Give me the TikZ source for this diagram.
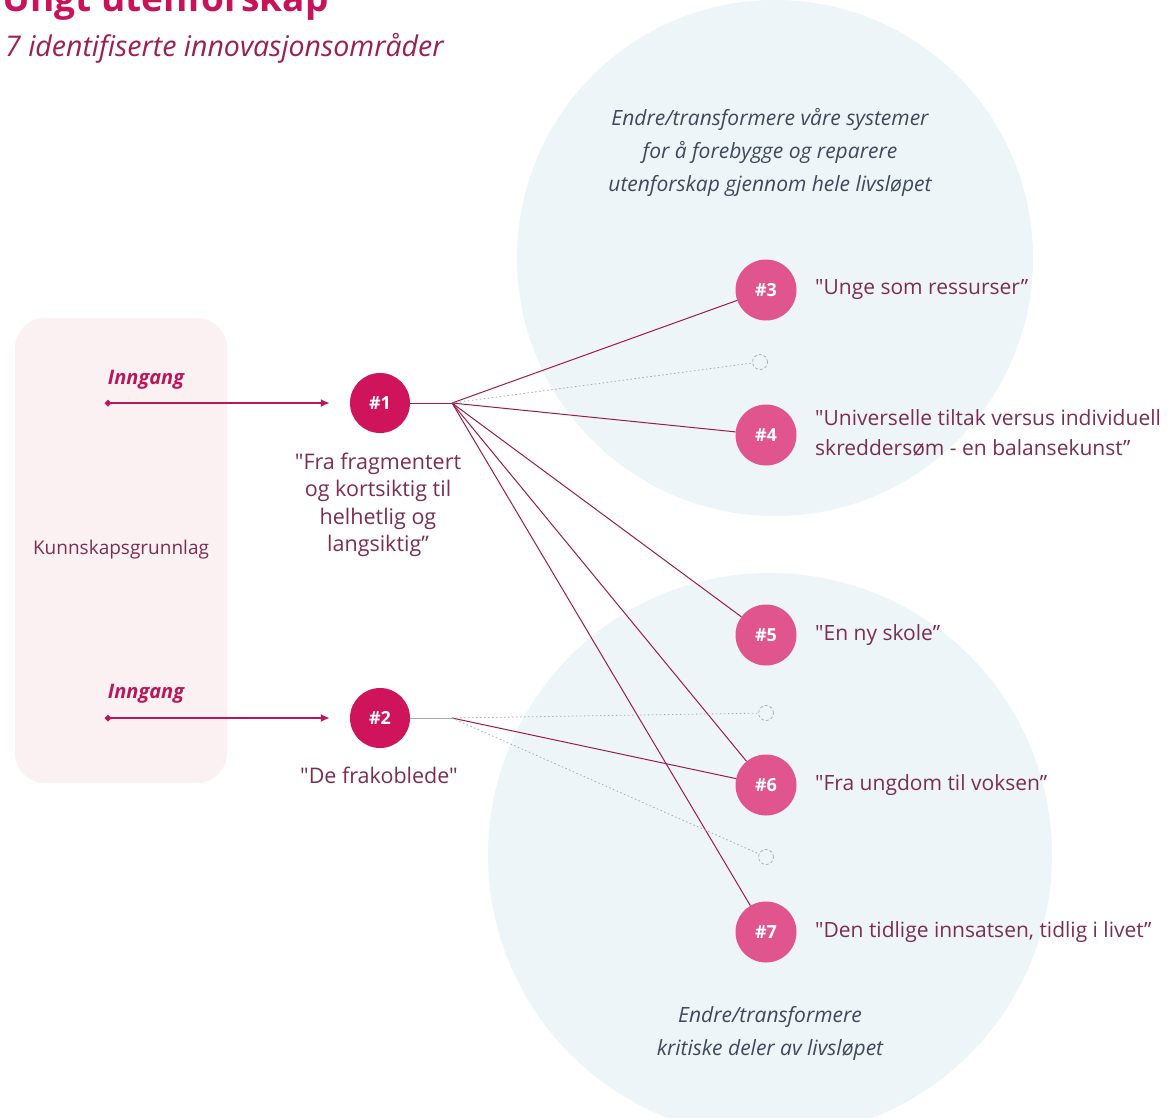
\documentclass[tikz,border=0pt]{standalone}
\usepackage{fontspec}
\setmainfont{Open Sans}[Ligatures=TeXOff]
\usetikzlibrary{arrows.meta}
\definecolor{crim}{HTML}{D0145C}
\definecolor{pinkc}{HTML}{E0558E}
\definecolor{titlec}{HTML}{C8125A}
\definecolor{subc}{HTML}{9A1F55}
\definecolor{arrowc}{HTML}{B8185A}
\definecolor{linec}{HTML}{9A1C4B}
\definecolor{labelc}{HTML}{7A2E52}
\definecolor{navyc}{HTML}{3E4A5A}
\definecolor{bluebg}{HTML}{EEF5F8}
\definecolor{pinkbg}{HTML}{FCF1F2}
\definecolor{ghostc}{HTML}{A8A8B0}
\tikzset{
  mainnode/.style={circle, fill=crim, minimum size=60pt, inner sep=0pt, text=white, font=\bfseries\fontsize{18}{20}\selectfont},
  areanode/.style={circle, fill=pinkc, minimum size=61pt, inner sep=0pt, text=white, font=\bfseries\fontsize{18}{20}\selectfont},
  ghost/.style={circle, draw=ghostc, densely dashed, line width=0.7pt, minimum size=15pt, inner sep=0pt},
  link/.style={draw=linec, line width=1pt},
  faintlink/.style={draw=ghostc, line width=0.8pt, dash pattern=on 1.5pt off 2.5pt},
  entry/.style={draw=arrowc, line width=2.4pt, {Circle[length=6pt]}-{Latex[length=9pt,width=8pt]}, shorten >=20pt},
  arealabel/.style={anchor=west, text=labelc, font=\fontsize{21}{30}\selectfont, align=left, inner sep=0pt},
  inlabel/.style={text=arrowc, font=\bfseries\itshape\fontsize{20}{22}\selectfont, inner sep=0pt},
  circtext/.style={text=navyc, font=\itshape\fontsize{21}{33}\selectfont, align=center, inner sep=0pt}
}
\begin{document}
\begin{tikzpicture}[x=1pt,y=-1pt]
\useasboundingbox (0,0) rectangle (1172,1117);
\clip (0,0) rectangle (1172,1117);
\fill[white] (0,0) rectangle (1172,1117);
% backgrounds
\fill[bluebg] (775,258) circle (258);
\fill[bluebg] (770,855) circle (282);
\fill[pinkbg, rounded corners=30pt] (15,318) rectangle (227,783);
% title (cut at the top edge, as in the source)
\node[anchor=base west, inner sep=0pt, text=titlec, font=\bfseries\fontsize{37}{40}\selectfont] (title) at (2,11) {Ungt utenforskap};
\node[anchor=base west, inner sep=0pt, text=subc, font=\itshape\fontsize{28.5}{32}\selectfont] (sub) at (5,56) {7 identifiserte innovasjonsområder};
% circle captions
\node[circtext] (toptext) at (770,152) {Endre/transformere våre systemer\\for å forebygge og reparere\\utenforskap gjennom hele livsløpet};
\node[circtext] (bottext) at (770,1033) {Endre/transformere\\kritiske deler av livsløpet};
% knowledge base
\node[text=labelc, font=\fontsize{19}{21}\selectfont, inner sep=0pt] (kb) at (121,550) {Kunnskapsgrunnlag};
% main nodes
\node[mainnode] (n1) at (380,403) {\#1};
\node[mainnode] (n2) at (380,718) {\#2};
\node[text=labelc, font=\fontsize{21.5}{27.5}\selectfont, align=center, inner sep=0pt] (l1) at (378,505) {"Fra fragmentert\\og kortsiktig til\\helhetlig og\\langsiktig”};
\node[text=labelc, font=\fontsize{21.5}{24}\selectfont, inner sep=0pt] (l2) at (379,775) {"De frakoblede"};
% entries
\node[inlabel] (i1) at (146,380) {Inngang};
\node[inlabel] (i2) at (146,694) {Inngang};
\coordinate (s1) at (105,403);
\coordinate (s2) at (105,718);
\draw[entry] (s1) -- (n1);
\draw[entry] (s2) -- (n2);
% area nodes
\node[areanode] (n3) at (766,290) {\#3};
\node[areanode] (n4) at (766,435) {\#4};
\node[areanode] (n5) at (766,635) {\#5};
\node[areanode] (n6) at (766,785) {\#6};
\node[areanode] (n7) at (766,932) {\#7};
\node[ghost] (g1) at (760,362) {};
\node[ghost] (g2) at (766,713) {};
\node[ghost] (g3) at (766,857) {};
% labels
\node[arealabel] (t3) at (815,290) {"Unge som ressurser”};
\node[arealabel] (t4) at (815,433) {"Universelle tiltak versus individuell\\skreddersøm - en balansekunst”};
\node[arealabel] (t5) at (815,635) {"En ny skole”};
\node[arealabel] (t6) at (815,785) {"Fra ungdom til voksen”};
\node[arealabel] (t7) at (815,932) {"Den tidlige innsatsen, tidlig i livet”};
% hubs
\coordinate (h1) at (452,403);
\coordinate (h2) at (452,718);
\draw[link] (n1) -- (h1);
\draw[link, draw=ghostc] (n2) -- (h2);
\draw[link] (h1) -- (n3);
\draw[link] (h1) -- (n4);
\draw[link] (h1) -- (n5);
\draw[link] (h1) -- (n6);
\draw[link] (h1) -- (n7);
\draw[faintlink] (h1) -- (g1);
\draw[link] (h2) -- (n6);
\draw[faintlink] (h2) -- (g2);
\draw[faintlink] (h2) -- (g3);
\end{tikzpicture}
\end{document}
